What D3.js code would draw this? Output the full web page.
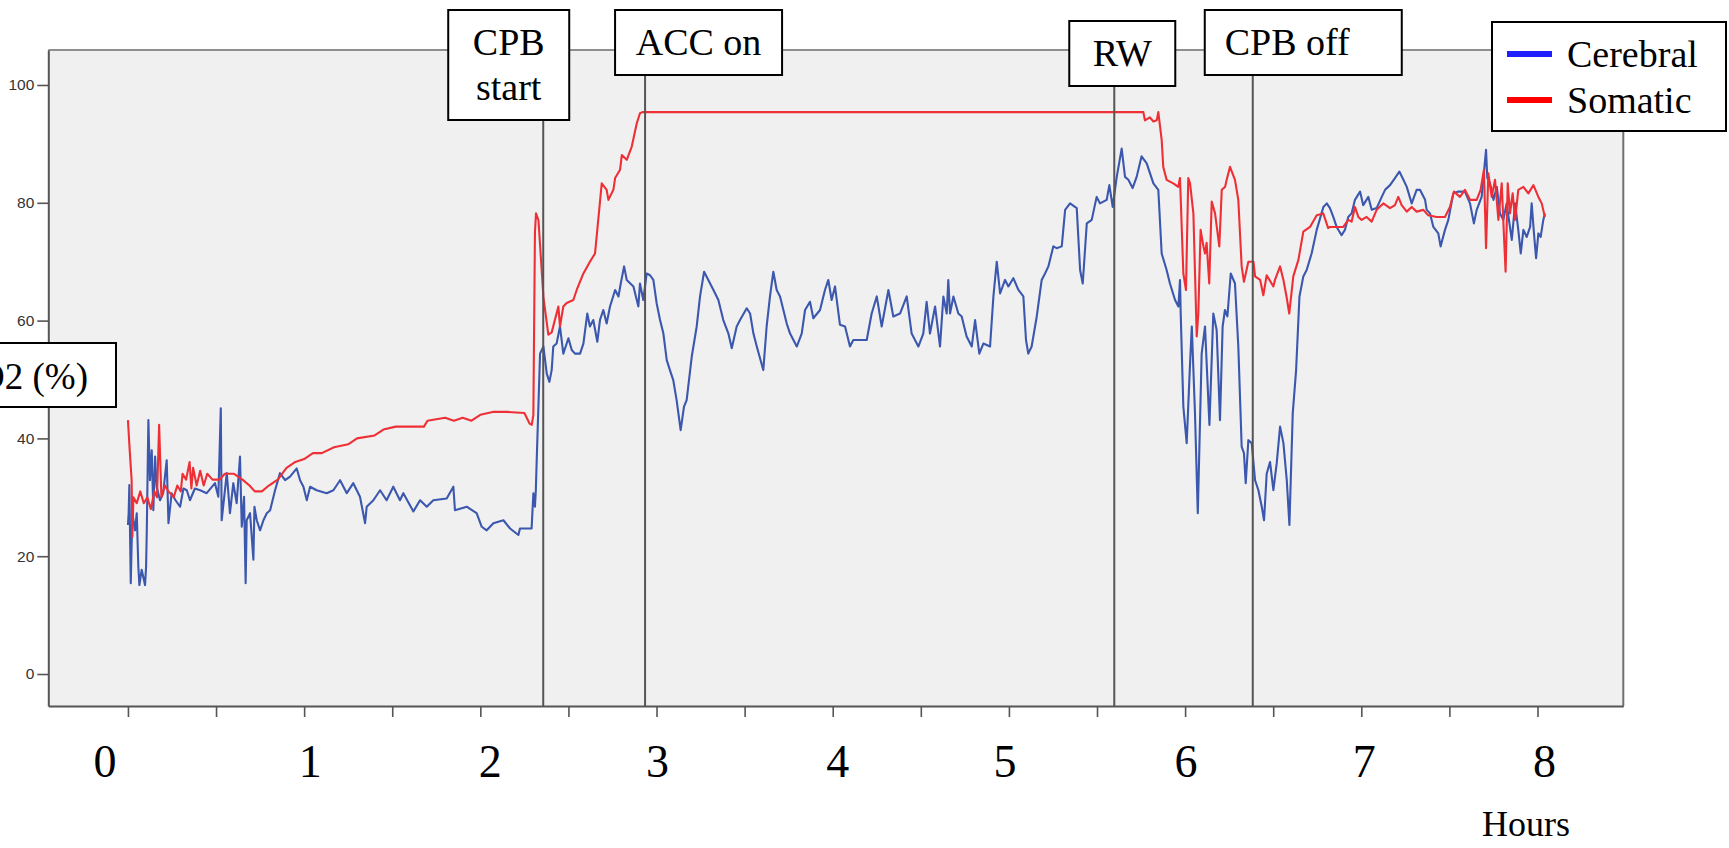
<!DOCTYPE html>
<html><head><meta charset="utf-8">
<script src="https://cdn.jsdelivr.net/npm/d3@7"></script>
<style>html,body{margin:0;padding:0;background:#fff;overflow:hidden}</style>
</head><body>
<svg id="chart" width="1729" height="848"></svg>
<script>
// ---------------- data ----------------
const yTickValues = [0, 20, 40, 60, 80, 100];
const xTickHours = [0, 0.5, 1, 1.5, 2, 2.5, 3, 3.5, 4, 4.5, 5, 5.5, 6, 6.5, 7, 7.5, 8];
const hourLabels = ["0", "1", "2", "3", "4", "5", "6", "7", "8"];
const hourLabelAt = [0, 1, 2, 3, 4, 5, 6, 7, 8];
const eventNames = [["CPB", "start"], ["ACC on"], ["RW"], ["CPB off"]];
const eventHours = [2.357, 2.935, 5.598, 6.384];
const seriesNames = ["Cerebral", "Somatic"];
const yAxisTitle = "rSO2 (%)";
const xAxisTitle = "Hours";

// [hours, rSO2 %]
const cerebral = [
[0,25.3],[0.004,27.3],[0.008,32.1],[0.016,15.4],[0.025,27.3],[0.040,24.4],[0.050,27.3],[0.059,18.2],[0.065,15.1],[0.078,17.7],
[0.097,15.1],[0.103,18.2],[0.107,24.4],[0.110,30.7],[0.116,43.1],[0.125,32.9],[0.135,38.0],[0.144,27.8],[0.154,36.9],[0.163,31.8],
[0.182,29.5],[0.200,30.7],[0.220,36.3],[0.230,25.6],[0.248,30.7],[0.270,29.5],[0.296,28.4],[0.315,31.5],[0.334,31.2],[0.352,29.5],
[0.380,31.5],[0.410,31.2],[0.447,30.7],[0.494,32.4],[0.513,30.1],[0.527,45.1],[0.532,26.1],[0.561,34.1],[0.579,27.3],[0.598,32.4],
[0.617,29.0],[0.636,36.9],[0.646,25.0],[0.659,30.1],[0.668,15.4],[0.674,26.1],[0.693,27.3],[0.712,19.4],[0.718,28.4],[0.731,26.1],
[0.750,24.4],[0.769,26.1],[0.788,27.3],[0.807,27.8],[0.835,31.2],[0.863,34.1],[0.892,32.9],[0.920,33.5],[0.958,34.9],[0.977,32.9],
[0.996,31.8],[1.015,29.5],[1.034,31.8],[1.071,31.2],[1.128,30.7],[1.166,31.2],[1.204,32.9],[1.242,30.7],[1.279,32.4],[1.317,30.1],
[1.346,25.6],[1.355,28.4],[1.393,29.5],[1.431,31.2],[1.468,29.5],[1.506,31.8],[1.544,29.5],[1.563,30.7],[1.620,27.6],[1.658,29.5],
[1.696,28.4],[1.733,29.5],[1.809,29.8],[1.847,31.8],[1.856,27.8],[1.923,28.4],[1.979,27.3],[2.008,25.0],[2.036,24.4],[2.074,25.6],
[2.131,26.1],[2.169,24.7],[2.216,23.6],[2.225,24.7],[2.291,24.7],[2.301,30.7],[2.310,28.4],[2.315,31.2],[2.320,36.3],[2.339,54.4],
[2.358,55.6],[2.377,51.0],[2.392,49.6],[2.405,51.6],[2.414,55.6],[2.433,56.1],[2.452,59.0],[2.471,54.4],[2.500,57.0],[2.519,55.0],
[2.537,54.4],[2.566,54.4],[2.585,56.1],[2.607,61.2],[2.622,59.0],[2.641,60.1],[2.664,56.4],[2.679,60.1],[2.698,61.8],[2.717,59.5],
[2.736,62.4],[2.765,65.2],[2.784,64.1],[2.797,66.3],[2.816,69.2],[2.831,66.9],[2.869,65.8],[2.897,62.4],[2.906,66.3],[2.925,63.5],
[2.944,68.0],[2.963,67.7],[2.982,66.9],[3.001,62.9],[3.020,60.1],[3.039,57.8],[3.058,53.3],[3.076,51.6],[3.095,49.9],[3.114,46.5],
[3.137,41.4],[3.156,45.4],[3.171,46.5],[3.200,53.9],[3.228,59.0],[3.247,64.1],[3.270,68.3],[3.294,66.9],[3.323,65.2],[3.351,63.5],
[3.379,60.1],[3.408,57.8],[3.427,55.3],[3.455,59.0],[3.474,60.1],[3.512,62.1],[3.531,61.2],[3.550,57.8],[3.569,55.6],[3.606,51.6],
[3.625,59.0],[3.644,64.1],[3.663,68.3],[3.682,65.2],[3.701,64.1],[3.720,61.8],[3.739,59.5],[3.758,57.8],[3.796,55.6],[3.824,57.8],
[3.843,61.8],[3.871,63.2],[3.890,60.4],[3.928,61.8],[3.956,65.2],[3.975,66.9],[3.994,63.5],[4.013,65.8],[4.041,59.3],[4.070,59.0],
[4.098,55.6],[4.117,56.7],[4.193,56.7],[4.221,61.2],[4.250,64.1],[4.278,59.0],[4.316,65.2],[4.344,60.7],[4.382,61.2],[4.420,64.1],
[4.448,57.8],[4.486,55.6],[4.514,57.8],[4.533,63.2],[4.552,57.8],[4.581,62.4],[4.609,55.6],[4.628,64.1],[4.647,61.2],[4.656,66.9],
[4.666,61.2],[4.685,64.1],[4.713,61.2],[4.732,60.7],[4.760,57.3],[4.789,55.6],[4.808,60.1],[4.832,54.4],[4.855,56.1],[4.893,55.6],
[4.912,64.1],[4.931,70.0],[4.950,64.6],[4.978,66.9],[4.997,65.8],[5.025,67.2],[5.054,65.2],[5.082,64.1],[5.097,56.7],[5.110,54.4],
[5.129,55.6],[5.158,60.7],[5.186,66.9],[5.205,68.0],[5.224,69.2],[5.252,72.6],[5.271,72.3],[5.300,72.6],[5.319,78.8],[5.347,79.9],
[5.385,79.1],[5.404,68.6],[5.419,66.3],[5.442,76.5],[5.470,77.1],[5.498,81.0],[5.517,79.9],[5.555,80.5],[5.570,83.0],[5.589,79.3],
[5.612,84.4],[5.640,89.2],[5.659,84.4],[5.678,83.9],[5.702,82.5],[5.725,84.4],[5.753,87.9],[5.782,86.7],[5.820,83.3],[5.848,82.2],
[5.867,71.4],[5.895,68.6],[5.914,66.3],[5.943,63.5],[5.962,62.4],[5.971,66.9],[5.975,61.2],[5.990,45.4],[6.009,39.2],[6.028,52.7],
[6.038,59.0],[6.056,44.3],[6.072,27.3],[6.094,54.4],[6.113,59.0],[6.138,42.3],[6.160,61.2],[6.179,58.4],[6.198,43.1],[6.213,59.0],
[6.226,61.8],[6.240,60.7],[6.259,68.0],[6.283,66.3],[6.302,55.6],[6.321,38.6],[6.334,37.5],[6.344,32.4],[6.359,39.7],[6.378,39.2],
[6.397,32.9],[6.416,31.2],[6.435,28.4],[6.448,26.1],[6.463,34.0],[6.482,36.0],[6.501,31.2],[6.520,35.8],[6.539,42.0],[6.558,39.2],
[6.577,32.9],[6.592,25.3],[6.611,44.3],[6.630,51.6],[6.649,64.1],[6.671,67.5],[6.690,68.6],[6.718,71.4],[6.747,75.4],[6.785,79.3],
[6.804,79.9],[6.822,79.1],[6.841,77.6],[6.860,75.9],[6.888,74.5],[6.907,75.4],[6.926,77.6],[6.945,78.2],[6.964,80.5],[6.993,81.9],
[7.011,79.6],[7.040,81.0],[7.059,78.8],[7.087,79.1],[7.116,81.0],[7.135,82.2],[7.163,83.0],[7.191,84.2],[7.216,85.3],[7.239,83.9],
[7.258,82.7],[7.286,79.9],[7.314,82.2],[7.333,82.2],[7.362,80.5],[7.371,78.8],[7.390,78.2],[7.409,75.9],[7.437,74.8],[7.450,72.6],
[7.475,75.4],[7.494,77.1],[7.522,81.6],[7.550,81.9],[7.588,81.9],[7.617,79.9],[7.639,76.5],[7.655,78.8],[7.683,81.0],[7.708,89.0],
[7.715,84.2],[7.731,83.3],[7.750,80.5],[7.769,82.7],[7.787,78.2],[7.806,77.1],[7.825,79.9],[7.854,73.7],[7.873,79.9],[7.891,75.4],
[7.905,71.4],[7.920,75.4],[7.939,74.2],[7.958,75.9],[7.967,79.9],[7.980,74.8],[7.992,70.6],[8.005,74.8],[8.018,74.2],[8.033,77.1],
[8.042,78.2]
];

const somatic = [
[0,43.1],[0.010,38.0],[0.021,32.9],[0.025,23.3],[0.031,30.0],[0.050,29.0],[0.070,31.0],[0.090,29.0],[0.110,30.0],[0.130,28.0],
[0.150,31.0],[0.165,30.0],[0.177,42.3],[0.190,30.0],[0.210,32.0],[0.230,31.0],[0.260,30.0],[0.280,32.0],[0.300,31.0],[0.310,34.0],
[0.330,33.0],[0.350,36.0],[0.360,31.5],[0.370,35.0],[0.390,32.0],[0.410,34.5],[0.430,32.0],[0.450,34.0],[0.480,33.0],[0.520,33.0],
[0.550,34.0],[0.600,34.0],[0.650,33.0],[0.690,32.0],[0.720,31.0],[0.760,31.0],[0.800,32.0],[0.850,33.0],[0.900,35.0],[0.950,36.0],
[1.000,36.5],[1.050,37.5],[1.100,37.5],[1.170,38.5],[1.250,39.0],[1.300,40.0],[1.400,40.5],[1.450,41.5],[1.520,42.0],[1.680,42.0],
[1.700,43.0],[1.800,43.5],[1.850,43.0],[1.900,43.5],[1.950,43.0],[2.000,44.0],[2.070,44.5],[2.150,44.5],[2.250,44.3],[2.280,42.5],
[2.292,42.3],[2.301,44.0],[2.310,75.0],[2.316,78.2],[2.330,77.0],[2.358,64.0],[2.386,57.6],[2.405,58.0],[2.443,62.4],[2.452,59.0],
[2.471,62.4],[2.490,63.0],[2.528,63.5],[2.547,65.2],[2.585,68.0],[2.622,70.0],[2.651,71.4],[2.660,74.2],[2.689,83.3],[2.717,82.2],
[2.727,80.5],[2.755,82.2],[2.765,84.2],[2.793,85.6],[2.803,88.1],[2.831,87.3],[2.859,89.5],[2.888,93.5],[2.906,95.2],[2.920,95.4],
[5.763,95.4],[5.772,94.0],[5.800,94.5],[5.820,93.8],[5.839,94.0],[5.848,95.4],[5.867,90.7],[5.876,86.1],[5.895,83.9],[5.933,83.3],
[5.961,82.7],[5.971,84.2],[5.990,68.0],[6.005,65.2],[6.018,84.2],[6.028,83.3],[6.047,78.2],[6.066,57.3],[6.075,61.2],[6.088,75.4],
[6.104,72.6],[6.113,71.4],[6.122,73.2],[6.137,66.3],[6.151,80.2],[6.170,78.2],[6.194,72.6],[6.208,82.2],[6.227,82.7],[6.236,83.9],
[6.255,86.1],[6.283,83.9],[6.302,80.5],[6.321,69.2],[6.334,66.6],[6.359,70.0],[6.388,70.0],[6.397,67.5],[6.426,66.9],[6.444,64.3],
[6.463,67.7],[6.501,65.8],[6.510,66.9],[6.539,69.2],[6.558,66.9],[6.576,64.0],[6.591,61.2],[6.614,67.5],[6.643,70.3],[6.671,75.1],
[6.709,75.9],[6.747,77.9],[6.784,78.2],[6.812,75.7],[6.822,75.9],[6.898,75.9],[6.926,77.1],[6.945,76.8],[6.964,79.3],[6.983,77.6],
[7.002,77.1],[7.030,77.6],[7.059,76.8],[7.087,78.8],[7.125,79.9],[7.163,79.1],[7.191,79.6],[7.210,81.0],[7.229,79.6],[7.258,78.5],
[7.286,79.3],[7.314,78.5],[7.352,78.8],[7.380,77.9],[7.428,77.6],[7.475,77.6],[7.503,79.3],[7.526,81.9],[7.560,81.0],[7.588,82.2],
[7.617,80.5],[7.655,80.5],[7.677,82.2],[7.696,85.6],[7.708,72.3],[7.721,85.0],[7.740,81.0],[7.759,83.9],[7.778,77.1],[7.797,83.3],
[7.810,74.2],[7.819,68.3],[7.831,83.3],[7.844,78.2],[7.859,81.6],[7.873,77.1],[7.891,82.2],[7.920,82.7],[7.948,81.6],[7.977,83.0],
[8.005,81.0],[8.024,79.9],[8.042,77.6]
];

// ---------------- layout / style ----------------
const W = 1729, H = 848;
const L = 48.3, R = 1623.3, T = 50, B = 706;
const serif = "'Liberation Serif','Times New Roman',serif";
const sans = "'Liberation Sans',Arial,sans-serif";
const lineColors = ["#3b57ae", "#ee3036"];
const swatchColors = ["#1e1eff", "#ff0000"];
const hourLabelNudge = [-23, 6, 10, 1, 5, -4, 1, 3, 7]; // px, label placement as in the reference

const svg = d3.select("#chart");
svg.append("rect").attr("width", W).attr("height", H).attr("fill", "#fff");

const x = d3.scaleLinear().domain([-0.452, 8.487]).range([L, R]);
const y = d3.scaleLinear().domain([-5.43, 105.94]).range([B, T]);

// plot background
svg.append("rect").attr("x", L).attr("y", T).attr("width", R - L).attr("height", B - T).attr("fill", "#f0f0f0");

svg.append("clipPath").attr("id", "plotclip").append("rect")
  .attr("x", L).attr("y", T).attr("width", R - L).attr("height", B - T);

const line = d3.line().x(d => x(d[0])).y(d => y(d[1]));
const gLines = svg.append("g").attr("clip-path", "url(#plotclip)");
[cerebral, somatic].forEach((s, i) => {
  gLines.append("path").datum(s).attr("d", line)
    .attr("fill", "none").attr("stroke", lineColors[i])
    .attr("stroke-width", 2.1).attr("stroke-linejoin", "round");
});

// event boxes layout (annotation placement relative to event line)
const boxLayout = [
  {dx: -95, top: 10, w: 121, h: 110, anchor: "middle", pad: 0},
  {dx: -30, top: 10, w: 167, h: 65, anchor: "middle", pad: 0},
  {dx: -45, top: 21, w: 106, h: 65, anchor: "middle", pad: 0},
  {dx: -48, top: 10, w: 197, h: 65, anchor: "start", pad: 20}
];

// event vertical lines
eventHours.forEach((h, i) => {
  const b = boxLayout[i];
  svg.append("line").attr("x1", x(h)).attr("x2", x(h))
    .attr("y1", b.top + b.h).attr("y2", B)
    .attr("stroke", "#555").attr("stroke-width", 2);
});

// frame
svg.append("line").attr("x1", L).attr("x2", R).attr("y1", T).attr("y2", T).attr("stroke", "#8f8f8f").attr("stroke-width", 2);
svg.append("line").attr("x1", R).attr("x2", R).attr("y1", T).attr("y2", B).attr("stroke", "#707070").attr("stroke-width", 2);

// y axis
const yAxis = svg.append("g").attr("transform", `translate(${L},0)`)
  .call(d3.axisLeft(y).tickValues(yTickValues).tickSize(11).tickSizeOuter(0).tickPadding(3));
yAxis.select(".domain").attr("stroke", "#555").attr("stroke-width", 2);
yAxis.selectAll(".tick line").attr("stroke", "#555").attr("stroke-width", 1.6);
yAxis.selectAll(".tick text").attr("font-family", sans).attr("font-size", 15.5).attr("fill", "#333");

// x axis
const xAxis = svg.append("g").attr("transform", `translate(0,${B})`)
  .call(d3.axisBottom(x).tickValues(xTickHours).tickSize(11).tickSizeOuter(0).tickFormat(""));
xAxis.select(".domain").attr("stroke", "#555").attr("stroke-width", 2);
xAxis.selectAll(".tick line").attr("stroke", "#555").attr("stroke-width", 1.6);

// big hour labels
svg.append("g").selectAll("text").data(hourLabels).join("text")
  .attr("x", (d, i) => x(hourLabelAt[i]) + hourLabelNudge[i])
  .attr("y", 777)
  .attr("text-anchor", "middle")
  .attr("font-family", serif).attr("font-size", 46).attr("fill", "#000")
  .text(d => d);

svg.append("text").attr("x", 1526).attr("y", 836).attr("text-anchor", "middle")
  .attr("font-family", serif).attr("font-size", 36).attr("fill", "#000").text(xAxisTitle);

// event boxes
eventHours.forEach((h, i) => {
  const b = boxLayout[i];
  const left = x(h) + b.dx;
  const g = svg.append("g");
  g.append("rect").attr("x", left).attr("y", b.top).attr("width", b.w).attr("height", b.h)
    .attr("fill", "#fff").attr("stroke", "#000").attr("stroke-width", 2);
  eventNames[i].forEach((txt, k) => {
    g.append("text")
      .attr("x", b.anchor === "middle" ? left + b.w / 2 : left + b.pad)
      .attr("y", b.top + 45 + k * 45)
      .attr("text-anchor", b.anchor)
      .attr("font-family", serif).attr("font-size", 38).attr("fill", "#000")
      .text(txt);
  });
});

// y title box (partly outside the left edge, as in the reference)
svg.append("rect").attr("x", -40).attr("y", 343).attr("width", 156).attr("height", 64)
  .attr("fill", "#fff").attr("stroke", "#000").attr("stroke-width", 2);
svg.append("text").attr("x", 88).attr("y", 389).attr("text-anchor", "end")
  .attr("font-family", serif).attr("font-size", 37).attr("fill", "#000").text(yAxisTitle);

// legend
const lg = svg.append("g");
lg.append("rect").attr("x", 1492).attr("y", 22).attr("width", 234).attr("height", 109)
  .attr("fill", "#fff").attr("stroke", "#000").attr("stroke-width", 2);
seriesNames.forEach((n, i) => {
  const cy = 54 + i * 46;
  lg.append("line").attr("x1", 1507).attr("x2", 1552).attr("y1", cy).attr("y2", cy)
    .attr("stroke", swatchColors[i]).attr("stroke-width", 6);
  lg.append("text").attr("x", 1567).attr("y", cy + 13)
    .attr("font-family", serif).attr("font-size", 38).attr("fill", "#000").text(n);
});
</script>
</body></html>
